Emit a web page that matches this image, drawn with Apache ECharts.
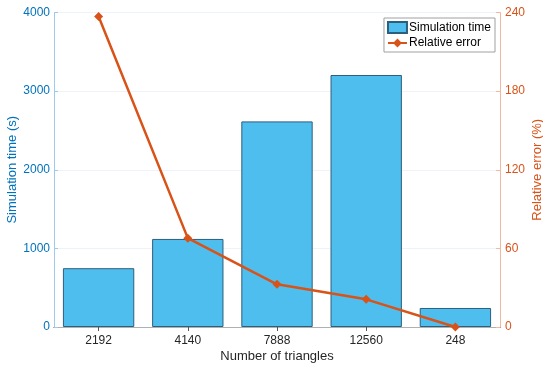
<!DOCTYPE html>
<html><head><meta charset="utf-8">
<script src="https://cdn.jsdelivr.net/npm/echarts@6/dist/echarts.min.js"></script>
<style>html,body{margin:0;padding:0;background:#fff}#c{width:543px;height:366px}</style>
</head><body><div id="c"></div>
<script>
const categories = ['2192', '4140', '7888', '12560', '248'];
const simTime = [748, 1120, 2615, 3205, 242];
const relError = [237, 67.8, 32.6, 21.1, 0];
const leftTicks = {min: 0, max: 4000, interval: 1000};
const rightTicks = {min: 0, max: 240, interval: 60};

const font = 'Liberation Sans, Arial, Helvetica, sans-serif';
const chart = echarts.init(document.getElementById('c'), null, {renderer: 'canvas'});
chart.setOption({
  animation: false,
  backgroundColor: '#fff',
  textStyle: {fontFamily: font},
  grid: {left: 54, right: 43, top: 12.5, bottom: 39, containLabel: false, outerBoundsMode: 'none'},
  legend: {
    orient: 'vertical', right: 48, top: 18,
    backgroundColor: '#fff', borderColor: '#a0a0a0', borderWidth: 1,
    padding: [3, 4, 3, 3], itemGap: 3, itemWidth: 19, itemHeight: 11,
    textStyle: {fontFamily: font, fontSize: 12, color: '#000', padding: [0, 0, 0, -3]},
    data: [
      {name: 'Simulation time', icon: 'rect'},
      {name: 'Relative error'}
    ]
  },
  xAxis: [{
    type: 'category', data: categories, position: 'bottom',
    name: 'Number of triangles', nameLocation: 'middle', nameGap: 23, nameMoveOverlap: false,
    nameTextStyle: {fontFamily: font, fontSize: 13, color: '#262626'},
    axisLine: {lineStyle: {color: '#262626', width: 1}},
    axisTick: {show: true, inside: true, alignWithLabel: true, length: 4, lineStyle: {color: '#262626'}},
    axisLabel: {fontFamily: font, fontSize: 12, color: '#262626', margin: 8},
    splitLine: {show: false}
  }, {
    type: 'category', data: categories, position: 'top',
    axisLine: {lineStyle: {color: '#b0b0b0', width: 1}},
    axisTick: {show: true, inside: true, alignWithLabel: true, length: 4, lineStyle: {color: '#555'}},
    axisLabel: {show: false}
  }],
  yAxis: [{
    type: 'value', position: 'left', min: leftTicks.min, max: leftTicks.max, interval: leftTicks.interval,
    name: 'Simulation time (s)', nameLocation: 'middle', nameGap: 35, nameMoveOverlap: false,
    nameTextStyle: {fontFamily: font, fontSize: 13, color: '#0072BD'},
    axisLine: {show: true, lineStyle: {color: '#9fcbea', width: 1}},
    axisTick: {show: true, inside: true, length: 4, lineStyle: {color: '#9fcbea'}},
    axisLabel: {fontFamily: font, fontSize: 12, color: '#0072BD', margin: 4, formatter: v => String(v)},
    splitLine: {show: true, lineStyle: {color: '#eef3f9', width: 1}}
  }, {
    type: 'value', position: 'right', min: rightTicks.min, max: rightTicks.max, interval: rightTicks.interval,
    name: 'Relative error (%)', nameLocation: 'middle', nameGap: 31, nameRotate: 90, nameMoveOverlap: false,
    nameTextStyle: {fontFamily: font, fontSize: 13, color: '#D95319'},
    axisLine: {show: true, lineStyle: {color: '#f2b9a0', width: 1}},
    axisTick: {show: true, inside: true, length: 4, lineStyle: {color: '#f2b9a0'}},
    axisLabel: {fontFamily: font, fontSize: 12, color: '#D95319', margin: 5, formatter: v => String(v)},
    splitLine: {show: false}
  }],
  series: [{
    name: 'Simulation time', type: 'bar', xAxisIndex: 0, yAxisIndex: 0,
    data: simTime, barWidth: '80%',
    itemStyle: {color: '#4DBEEE', borderColor: '#2d5f7c', borderWidth: 1}
  }, {
    name: 'Relative error', type: 'line', xAxisIndex: 0, yAxisIndex: 1,
    data: relError, symbol: 'diamond', symbolSize: 9,
    lineStyle: {color: '#D95319', width: 2.5},
    itemStyle: {color: '#D95319'}
  }]
});
</script></body></html>
